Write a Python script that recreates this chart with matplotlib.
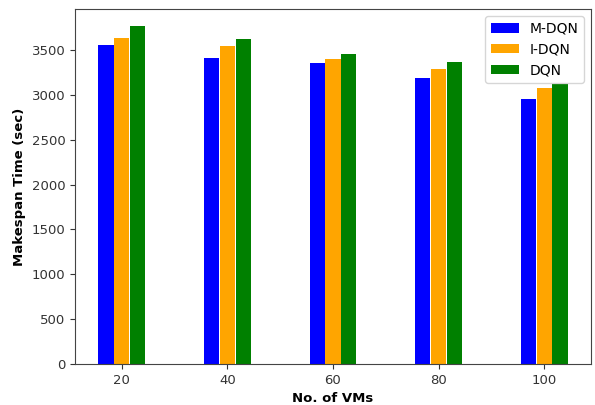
import matplotlib
matplotlib.use("Agg")
import matplotlib.pyplot as plt
import numpy as np

vms = ["20", "40", "60", "80", "100"]
m_dqn = [3556, 3415, 3359, 3192, 2950]
i_dqn = [3638, 3549, 3400, 3285, 3080]
dqn = [3768, 3618, 3456, 3370, 3121]

fig = plt.figure(figsize=(5.95, 4.05), dpi=100)
ax = fig.add_axes([75/595, 1-364/405, (591-75)/595, (364-9)/405])

x = np.arange(len(vms))
w = 0.15
ax.bar(x - w, m_dqn, width=w*0.95, color="blue", label="M-DQN")
ax.bar(x, i_dqn, width=w*0.95, color="orange", label="I-DQN")
ax.bar(x + w, dqn, width=w*0.95, color="green", label="DQN")

ax.set_xticks(x)
ax.set_xticklabels(vms)
ax.tick_params(labelsize=9.5, colors="#333333")
ax.set_xlabel("No. of VMs", fontweight="bold", fontsize=9.5)
ax.set_ylabel("Makespan Time (sec)", fontweight="bold", fontsize=9.5)
ax.legend(fontsize=10, loc="upper right")
for s in ax.spines.values():
    s.set_color("#444444")

fig.savefig("out.png", dpi=100)
